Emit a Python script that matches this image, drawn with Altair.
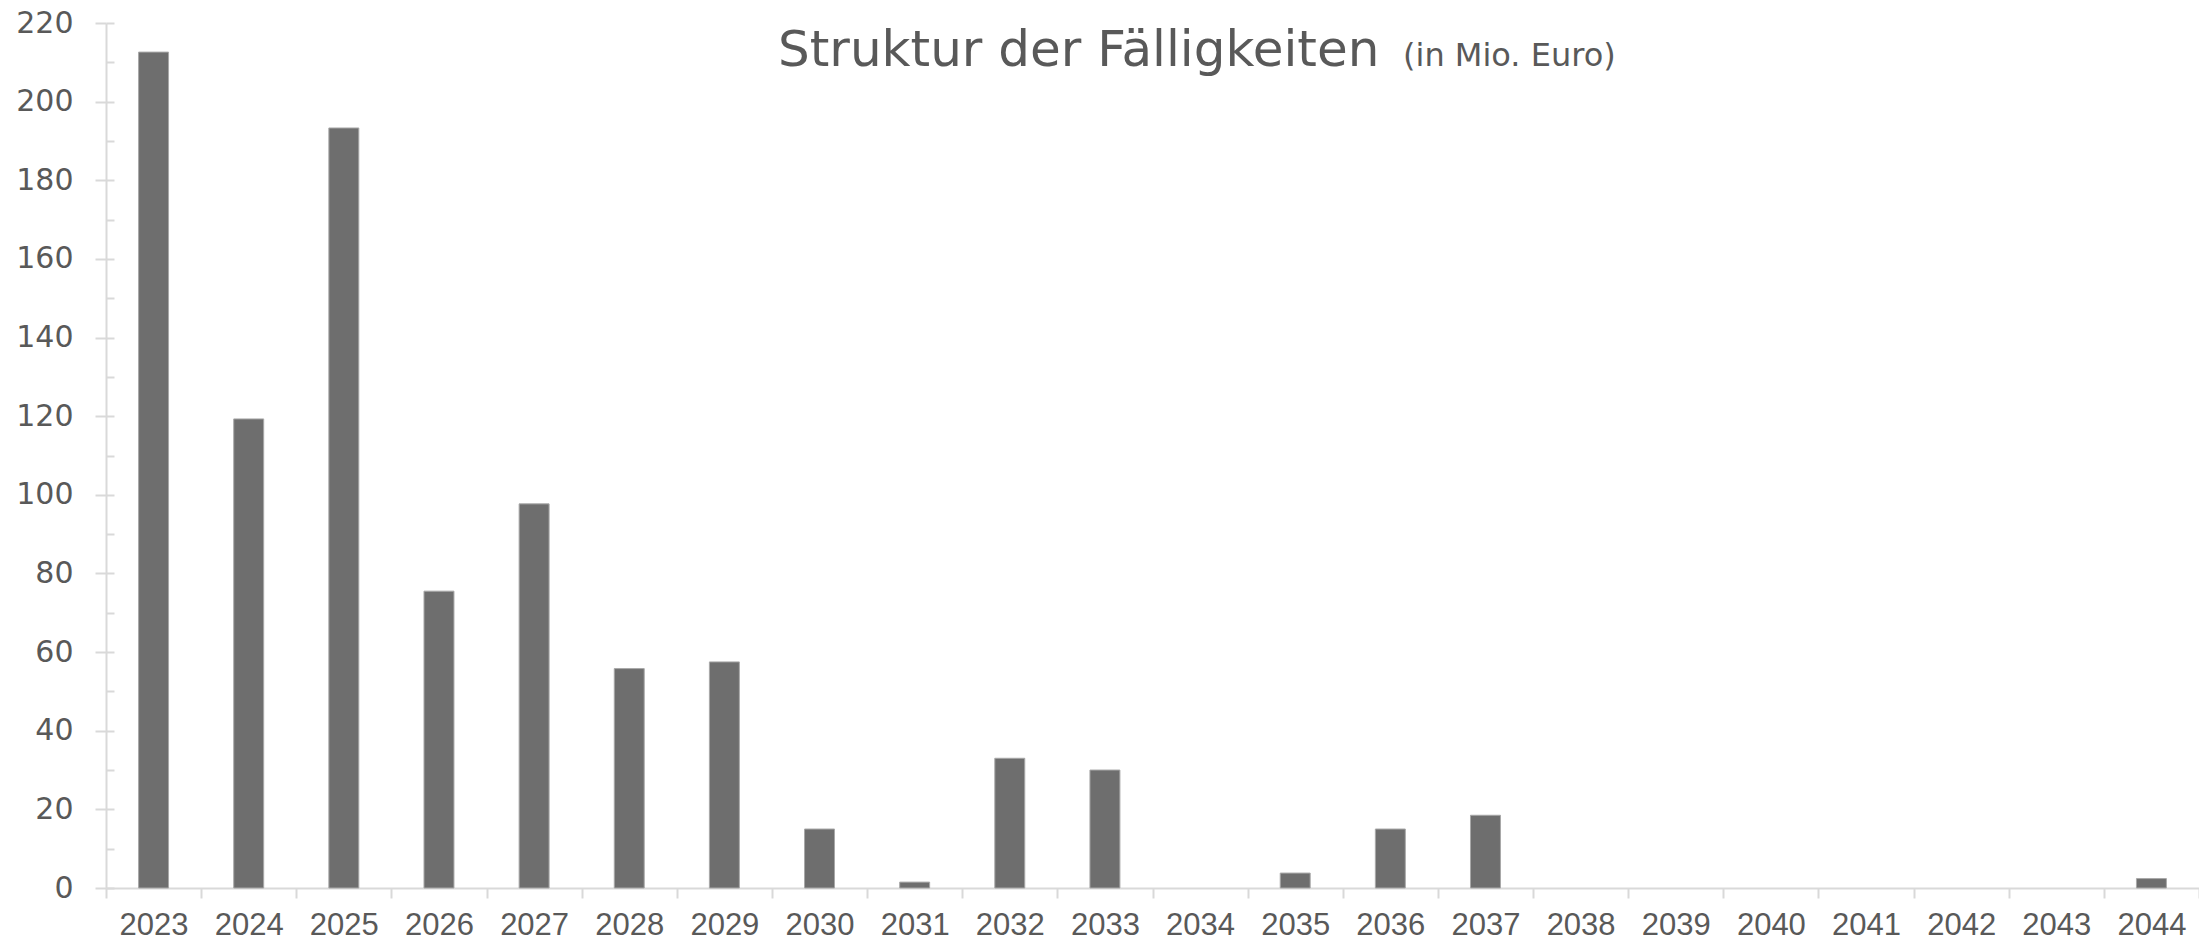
import altair as alt
import pandas as pd

years = [str(y) for y in range(2023, 2045)]
values = [212.6, 119.3, 193.3, 75.5, 97.7, 55.8, 57.5, 15.0, 1.5, 33.0, 30.0, 0.0,
          3.8, 15.0, 18.5, 0.0, 0.0, 0.0, 0.0, 0.0, 0.0, 2.4]
y_major = list(range(0, 221, 20))
y_minor = list(range(0, 221, 10))
title_main = "Struktur der Fälligkeiten"
title_sub = "(in Mio. Euro)"

df = pd.DataFrame({"Jahr": years, "Wert": values})

GRAY_TXT = "#595959"
AXIS_COL = "#d9d9d9"

x_enc = alt.X(
    "Jahr:N",
    sort=years,
    scale=alt.Scale(domain=years, paddingInner=0, paddingOuter=0),
    axis=alt.Axis(
        title=None,
        labelAngle=0,
        labelFont="Liberation Sans",
        labelFontSize=31,
        labelColor=GRAY_TXT,
        labelPadding=12,
        labelOverlap=False,
        tickBand="extent",
        tickSize=10,
        tickColor=AXIS_COL,
        tickWidth=2,
        domainColor=AXIS_COL,
        domainWidth=2,
    ),
)

y_scale = alt.Scale(domain=[0, 220], nice=False)

bars = alt.Chart(df).transform_filter("datum.Wert > 0").mark_bar(
    width=alt.RelativeBandSize(0.315),
    color="#6e6e6e",
    stroke="#a8a8a8",
    strokeWidth=1,
).encode(
    x=x_enc,
    y=alt.Y(
        "Wert:Q",
        scale=y_scale,
        axis=alt.Axis(
            title=None,
            values=y_major,
            labelFont="DejaVu Sans",
            labelFontSize=30,
            labelColor=GRAY_TXT,
            labelPadding=22,
            tickSize=11,
            tickColor=AXIS_COL,
            tickWidth=2,
            domainColor=AXIS_COL,
            domainWidth=2,
            grid=False,
        ),
    ),
)

minor = alt.Chart(df).transform_filter("datum.Wert > 0").mark_bar(
    opacity=0, width=alt.RelativeBandSize(0.315)
).encode(
    x=x_enc,
    y=alt.Y(
        "Wert:Q",
        scale=y_scale,
        axis=alt.Axis(
            title=None,
            orient="left",
            values=y_minor,
            labels=False,
            domain=False,
            grid=False,
            offset=-8,
            tickSize=8,
            tickColor=AXIS_COL,
            tickWidth=2,
        ),
    ),
)

t1 = alt.Chart(pd.DataFrame({"t": [title_main]})).mark_text(
    font="DejaVu Sans", fontSize=50, color=GRAY_TXT, align="left", baseline="alphabetic"
).encode(text="t:N", x=alt.value(672), y=alt.value(43))

t2 = alt.Chart(pd.DataFrame({"t": [title_sub]})).mark_text(
    font="DejaVu Sans", fontSize=32, color=GRAY_TXT, align="left", baseline="alphabetic"
).encode(text="t:N", x=alt.value(1297), y=alt.value(43))

chart = (
    alt.layer(bars, minor, t1, t2)
    .resolve_axis(y="independent")
    .properties(
        width=2093,
        height=865,
        autosize=alt.AutoSizeParams(type="none"),
        padding={"left": 98, "top": 15, "right": 0, "bottom": 60},
        background="white",
    )
    .configure_view(stroke=None)
)

chart.save("out.html", embed_options={"renderer": "svg", "actions": False})
